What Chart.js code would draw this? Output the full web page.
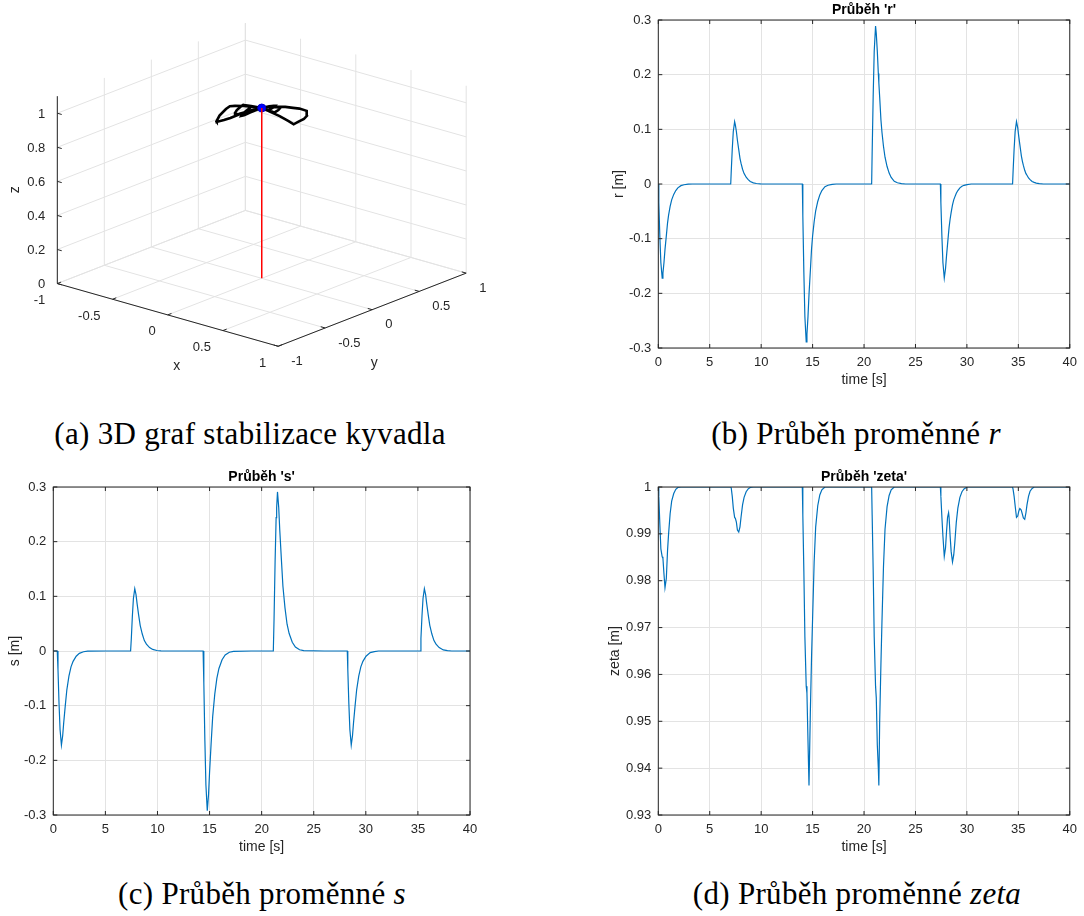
<!DOCTYPE html>
<html>
<head>
<meta charset="utf-8">
<script src="https://cdn.jsdelivr.net/npm/chart.js@4.4.0/dist/chart.umd.min.js"></script>
<style>
  body { margin: 0; background: #fff; width: 1084px; height: 916px; overflow: hidden; position: relative; }
  canvas { position: absolute; }
  .cap { position: absolute; font-family: "Liberation Serif", serif; font-size: 31px; line-height: 31px;
         letter-spacing: 0.3px; white-space: nowrap; transform: translateX(-50%); color: #000; }
</style>
</head>
<body>
<canvas id="g3d" width="540" height="400" style="left:0;top:0"></canvas>
<canvas id="gr" width="484" height="400" style="left:600px;top:0"></canvas>
<canvas id="gs" width="540" height="400" style="left:0;top:467px"></canvas>
<canvas id="gz" width="484" height="400" style="left:600px;top:467px"></canvas>

<div class="cap" style="left:250px;top:418px">(a) 3D graf stabilizace kyvadla</div>
<div class="cap" style="left:856px;top:418px">(b) Průběh proměnné <i>r</i></div>
<div class="cap" style="left:262px;top:878px">(c) Průběh proměnné <i>s</i></div>
<div class="cap" style="left:857px;top:878px">(d) Průběh proměnné <i>zeta</i></div>

<script>
// time [s] - one row per disturbance
const time = [
  0, 0.05, 0.15, 0.25, 0.38, 0.45, 0.55, 0.65, 0.78, 0.9, 1.0, 1.15, 1.3, 1.5, 1.7, 1.9, 2.2, 2.5, 2.9, 3.3,
  5,
  7.04, 7.09, 7.19, 7.29, 7.42, 7.49, 7.59, 7.69, 7.82, 7.94, 8.04, 8.19, 8.34, 8.54, 8.74, 8.94, 9.24, 9.54, 9.94, 10.34,
  12,
  14.0, 14.05, 14.15, 14.25, 14.38, 14.45, 14.55, 14.65, 14.78, 14.9, 15.0, 15.15, 15.3, 15.5, 15.7, 15.9, 16.2, 16.5, 16.9, 17.3,
  19,
  20.74, 20.79, 20.89, 20.99, 21.12, 21.19, 21.29, 21.39, 21.44, 21.52, 21.64, 21.74, 21.89, 22.04, 22.24, 22.44, 22.64, 22.94, 23.24, 23.64, 24.04,
  26,
  27.42, 27.47, 27.57, 27.67, 27.8, 27.92, 28.02, 28.12, 28.22, 28.27, 28.37, 28.47, 28.6, 28.72, 28.82, 28.97, 29.12, 29.32, 29.52, 29.72, 30.02, 30.42, 30.82, 31.22,
  33,
  34.44, 34.49, 34.59, 34.69, 34.82, 34.94, 35.04, 35.14, 35.24, 35.29, 35.39, 35.49, 35.62, 35.74, 35.84, 35.99, 36.14, 36.34, 36.54, 36.74, 37.04, 37.44, 37.84, 38.24,
  40
];
const rVal = [
  0, -0.034, -0.096, -0.144, -0.172, -0.163, -0.144, -0.120, -0.095, -0.071, -0.057, -0.041, -0.029, -0.019, -0.012, -0.007, -0.003, -0.0014, -0.0003, 0,
  0,
  0, 0.023, 0.064, 0.096, 0.114, 0.108, 0.096, 0.080, 0.063, 0.047, 0.038, 0.027, 0.019, 0.0125, 0.008, 0.0046, 0.002, 0.0009, 0.0002, 0,
  0,
  0, -0.058, -0.162, -0.243, -0.289, -0.275, -0.243, -0.202, -0.159, -0.118, -0.095, -0.069, -0.049, -0.032, -0.020, -0.012, -0.005, -0.0023, -0.0006, 0,
  0,
  0, 0.058, 0.162, 0.243, 0.289, 0.275, 0.243, 0.202, 0.185, 0.159, 0.118, 0.095, 0.069, 0.049, 0.032, 0.020, 0.012, 0.005, 0.0023, 0.0006, 0,
  0,
  0, -0.034, -0.096, -0.144, -0.172, -0.155, -0.131, -0.110, -0.089, -0.079, -0.064, -0.052, -0.038, -0.029, -0.024, -0.017, -0.012, -0.007, -0.004, -0.0024, -0.001, 0, 0, 0,
  0,
  0, 0.023, 0.064, 0.096, 0.114, 0.103, 0.087, 0.073, 0.059, 0.052, 0.042, 0.034, 0.025, 0.019, 0.016, 0.011, 0.008, 0.0046, 0.0029, 0.0016, 0.0007, 0, 0, 0,
  0
];
const sVal = [
  0, 0, 0, 0, 0, -0.034, -0.096, -0.144, -0.172, -0.155, -0.131, -0.100, -0.071, -0.046, -0.029, -0.019, -0.0095, -0.0043, -0.0014, -0.0003,
  0,
  0, 0, 0, 0, 0, 0.023, 0.064, 0.096, 0.114, 0.103, 0.087, 0.066, 0.047, 0.031, 0.019, 0.0125, 0.0063, 0.0029, 0.0009, 0.0002,
  0,
  0, 0, 0, 0, 0, -0.058, -0.164, -0.245, -0.292, -0.263, -0.222, -0.169, -0.120, -0.079, -0.050, -0.032, -0.016, -0.0073, -0.0023, -0.0006,
  0,
  0, 0, 0, 0, 0, 0.058, 0.163, 0.244, 0.262, 0.291, 0.262, 0.221, 0.169, 0.119, 0.079, 0.049, 0.032, 0.016, 0.0073, 0.0023, 0.0006,
  0,
  0, 0, 0, 0, 0, 0, 0, 0, 0, -0.034, -0.096, -0.144, -0.172, -0.155, -0.131, -0.100, -0.071, -0.046, -0.029, -0.019, -0.0095, -0.003, -0.001, 0,
  0,
  0, 0, 0, 0, 0, 0, 0, 0, 0, 0.023, 0.064, 0.096, 0.114, 0.103, 0.087, 0.066, 0.047, 0.031, 0.019, 0.0125, 0.0063, 0.002, 0.0007, 0,
  0
];
const zetaVal = [
  1, 0.998, 0.992, 0.9868, 0.9851, 0.9848, 0.9815, 0.9785, 0.9805, 0.9865, 0.990, 0.9943, 0.997, 0.9986, 0.9995, 0.9999, 1, 1, 1, 1,
  1,
  1, 0.9998, 0.998, 0.9955, 0.9935, 0.9933, 0.9925, 0.9908, 0.9904, 0.9915, 0.9935, 0.9962, 0.9978, 0.999, 0.9996, 0.9999, 1, 1, 1, 1,
  1,
  1, 0.994, 0.982, 0.968, 0.9575, 0.956, 0.946, 0.9363, 0.9518, 0.964, 0.972, 0.984, 0.9915, 0.996, 0.9983, 0.9994, 1, 1, 1, 1,
  1,
  1, 0.994, 0.982, 0.968, 0.9575, 0.955, 0.945, 0.940, 0.9363, 0.950, 0.962, 0.971, 0.983, 0.991, 0.9958, 0.9982, 0.9994, 1, 1, 1, 1,
  1,
  1, 0.998, 0.9935, 0.9895, 0.9852, 0.987, 0.9905, 0.9935, 0.9945, 0.9935, 0.9895, 0.9862, 0.984, 0.9855, 0.988, 0.9925, 0.9955, 0.9978, 0.999, 0.9996, 1, 1, 1, 1,
  1,
  1, 0.9995, 0.998, 0.996, 0.9935, 0.9938, 0.9948, 0.9954, 0.9952, 0.995, 0.9942, 0.9934, 0.9931, 0.9945, 0.9962, 0.998, 0.9991, 0.9997, 1, 1, 1, 1, 1, 1,
  1
];
if (rVal.length !== time.length || sVal.length !== time.length || zetaVal.length !== time.length)
  throw new Error('length mismatch ' + time.length + ' ' + rVal.length + ' ' + sVal.length + ' ' + zetaVal.length);

const timeTicks = [0, 5, 10, 15, 20, 25, 30, 35, 40];
const rsTicks = [-0.3, -0.2, -0.1, 0, 0.1, 0.2, 0.3];
const zetaTicks = [0.93, 0.94, 0.95, 0.96, 0.97, 0.98, 0.99, 1];
const xyTicks3d = [-1, -0.5, 0, 0.5, 1];
const zTicks3d = [0, 0.2, 0.4, 0.6, 0.8, 1];
const zTop = 1.1;

const FONT = '"Liberation Sans", Arial, sans-serif';
const AXIS = '#262626';
const GRID = '#e3e3e3';

// ---------- 2D panels ----------
const boxPlugin = {
  id: 'box',
  afterDraw(chart) {
    const {ctx, chartArea: a, scales: {x, y}} = chart;
    ctx.save();
    ctx.strokeStyle = AXIS;
    ctx.lineWidth = 1;
    ctx.strokeRect(a.left, a.top, a.right - a.left, a.bottom - a.top);
    ctx.beginPath();
    x.ticks.forEach(t => {
      const p = x.getPixelForValue(t.value);
      ctx.moveTo(p, a.bottom); ctx.lineTo(p, a.bottom - 4);
      ctx.moveTo(p, a.top); ctx.lineTo(p, a.top + 4);
    });
    y.ticks.forEach(t => {
      const p = y.getPixelForValue(t.value);
      ctx.moveTo(a.left, p); ctx.lineTo(a.left + 4, p);
      ctx.moveTo(a.right, p); ctx.lineTo(a.right - 4, p);
    });
    ctx.stroke();
    ctx.restore();
  }
};

function panel(id, title, ylabel, vals, yTicks, yW, padR, yTitlePad) {
  return new Chart(document.getElementById(id), {
    type: 'scatter',
    data: {
      datasets: [{
        data: time.map((t, i) => ({x: t, y: vals[i]})),
        showLine: true,
        borderColor: '#0072bd',
        borderWidth: 1.2,
        pointRadius: 0
      }]
    },
    options: {
      responsive: false,
      animation: false,
      events: [],
      layout: {padding: {left: 0, right: padR, top: 0, bottom: 0}},
      plugins: {
        legend: {display: false},
        tooltip: {enabled: false},
        title: {display: true, text: title, color: '#000', fullSize: false,
                font: {family: FONT, size: 14, weight: 'bold'}, padding: {top: 1.6, bottom: 1.6}}
      },
      scales: {
        x: {
          type: 'linear', min: 0, max: 40,
          afterBuildTicks: s => { s.ticks = timeTicks.map(v => ({value: v})); },
          afterFit: s => { s.height = 52; },
          grid: {color: GRID, drawTicks: false},
          border: {display: false},
          ticks: {color: AXIS, font: {family: FONT, size: 13}, padding: 7, maxRotation: 0, autoSkip: false,
                  callback: v => String(+v.toFixed(4))},
          title: {display: true, text: 'time [s]', color: AXIS, font: {family: FONT, size: 14},
                  padding: {top: 0, bottom: 11.6}}
        },
        y: {
          type: 'linear', min: yTicks[0], max: yTicks[yTicks.length - 1],
          afterBuildTicks: s => { s.ticks = yTicks.map(v => ({value: v})); },
          afterFit: s => { s.width = yW; },
          grid: {color: GRID, drawTicks: false},
          border: {display: false},
          ticks: {color: AXIS, font: {family: FONT, size: 13}, padding: 7, autoSkip: false,
                  callback: v => String(+v.toFixed(4))},
          title: {display: true, text: ylabel, color: AXIS, font: {family: FONT, size: 14},
                  padding: {top: yTitlePad, bottom: 0}}
        }
      }
    },
    plugins: [boxPlugin]
  });
}

panel('gr', "Průběh 'r'", 'r [m]', rVal, rsTicks, 58.3, 9, 10.6);
panel('gs', "Průběh 's'", 's [m]', sVal, rsTicks, 53.3, 70, 6.6);
panel('gz', "Průběh 'zeta'", 'zeta [m]', zetaVal, zetaTicks, 58.3, 9, 6.6);

// ---------- 3D panel (az -37.5, el 30 look) ----------
const view = {ox: 261.6, oy: 280.35, xx: 112.5, xy: 32.15, yx: 95.8, yy: -37.5, zy: -174.7};
function proj(x, y, z) {
  return {x: view.ox + view.xx * x + view.yx * y, y: view.oy + view.xy * x + view.yy * y + view.zy * z};
}
function segs(list) {
  const out = [];
  list.forEach(([a, b]) => { out.push(proj(...a), proj(...b), {x: null, y: null}); });
  return out;
}

const gridList = [];
xyTicks3d.forEach(v => {
  gridList.push([[v, -1, 0], [v, 1, 0]], [[-1, v, 0], [1, v, 0]]);
  gridList.push([[-1, v, 0], [-1, v, zTop]]);
  gridList.push([[v, 1, 0], [v, 1, zTop]]);
});
zTicks3d.forEach(v => {
  gridList.push([[-1, -1, v], [-1, 1, v]], [[-1, 1, v], [1, 1, v]]);
});

const axisList = [
  [[-1, -1, 0], [-1, -1, zTop]],
  [[-1, -1, 0], [1, -1, 0]],
  [[1, -1, 0], [1, 1, 0]]
];
zTicks3d.forEach(v => axisList.push([[-1, -1, v], [-0.96, -1, v]]));
xyTicks3d.forEach(v => axisList.push([[v, -1, 0], [v, -0.96, 0]]));
xyTicks3d.forEach(v => axisList.push([[1, v, 0], [0.96, v, 0]]));

const last = time.length - 1;
const tip = [rVal[last], sVal[last], zetaVal[last]];

const lineDs = (data, color, width, order) => ({
  data, showLine: true, borderColor: color, borderWidth: width, pointRadius: 0, spanGaps: false, order
});

const labels3d = {
  id: 'labels3d',
  afterDraw(chart) {
    const {ctx, scales: {x, y}} = chart;
    const px = p => ({x: x.getPixelForValue(p.x), y: y.getPixelForValue(p.y)});
    ctx.save();
    ctx.fillStyle = AXIS;
    ctx.font = '13px ' + FONT;
    ctx.textBaseline = 'middle';
    ctx.textAlign = 'right';
    zTicks3d.forEach(v => { const p = px(proj(-1, -1, v)); ctx.fillText(String(v), p.x - 12, p.y + 1); });
    xyTicks3d.forEach(v => { const p = px(proj(v, -1, 0)); ctx.fillText(String(v), p.x - 12, p.y + 17); });
    ctx.textAlign = 'left';
    xyTicks3d.forEach(v => { const p = px(proj(1, v, 0)); ctx.fillText(String(v), p.x + 13, p.y + 15); });
    ctx.font = '14px ' + FONT;
    ctx.textAlign = 'center';
    const lx = px(proj(0.2, -1, 0)), ly = px(proj(1, 0, 0));
    ctx.fillText('x', lx.x - 13, lx.y + 45);
    ctx.fillText('y', ly.x + 2, ly.y + 53);
    const lz = px(proj(-1, -1, 0.55));
    ctx.translate(lz.x - 42, lz.y);
    ctx.rotate(-Math.PI / 2);
    ctx.fillText('z', 0, 0);
    ctx.restore();
  }
};

new Chart(document.getElementById('g3d'), {
  type: 'scatter',
  data: {
    datasets: [
      lineDs(segs(gridList), GRID, 1, 5),
      lineDs(segs(axisList), AXIS, 1, 4),
      lineDs(time.map((t, i) => proj(rVal[i], sVal[i], zetaVal[i])), '#000', 2.6, 3),
      {data: [proj(...tip)], pointRadius: 4, pointBackgroundColor: '#0000ff', pointBorderColor: '#0000cc',
       pointBorderWidth: 1, order: 2},
      lineDs([proj(0, 0, 0), proj(...tip)], '#ff0000', 1.5, 1)
    ]
  },
  options: {
    responsive: false,
    animation: false,
    events: [],
    layout: {padding: 0},
    plugins: {legend: {display: false}, tooltip: {enabled: false}},
    scales: {
      x: {type: 'linear', min: 0, max: 540, display: false},
      y: {type: 'linear', min: 0, max: 400, reverse: true, display: false}
    }
  },
  plugins: [labels3d]
});
</script>
</body>
</html>
